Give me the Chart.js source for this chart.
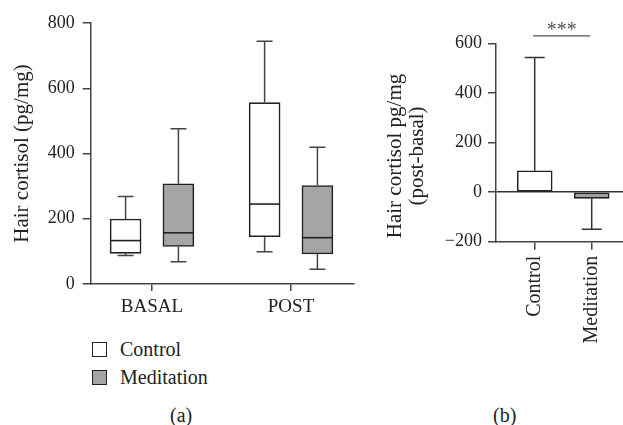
<!DOCTYPE html>
<html>
<head>
<meta charset="utf-8">
<script src="https://cdn.jsdelivr.net/npm/chart.js@4.4.1/dist/chart.umd.min.js"></script>
<style>
  body { margin: 0; background: #fff; width: 623px; height: 425px; position: relative; overflow: hidden;
         font-family: "Liberation Serif", serif; color: #222; }
  #boxChart { position: absolute; left: 0; top: 0; }
  #diffChart { position: absolute; left: 365px; top: 0; }
  .key { position: absolute; left: 92px; width: 13px; height: 13px; border: 1.3px solid #222; }
  .txt { position: absolute; font-size: 20px; line-height: 20px; white-space: nowrap; }
</style>
</head>
<body>
<canvas id="boxChart" width="370" height="330"></canvas>
<canvas id="diffChart" width="258" height="380"></canvas>

<div class="key" style="top:342px;background:#fff"></div>
<div class="txt" style="left:120px;top:339px">Control</div>
<div class="key" style="top:370px;background:#a6a4a7"></div>
<div class="txt" style="left:120px;top:367px">Meditation</div>
<div class="txt" style="left:170px;top:405px">(a)</div>
<div class="txt" style="left:493px;top:405px">(b)</div>

<script>
// (a) box plot, per group: [min, q1, median, q3, max]
const groups = ["BASAL", "POST"];
const controlStats = [[87, 94, 133, 199, 268], [99, 145, 245, 556, 744]];
const meditationStats = [[68, 115, 157, 307, 476], [45, 92, 142, 302, 419]];

// (b) post - basal difference, bar value and error bar end
const diffLabels = ["Control", "Meditation"];
const diffValues = [86, -25];
const diffErrorEnd = [543, -150];

Chart.defaults.font.family = "'Liberation Serif', serif";
Chart.defaults.color = "#222";

const axisColor = "#444";

// whiskers + median for the box chart
const whiskerPlugin = {
    id: "whiskers",
    afterDatasetsDraw(chart) {
        const ctx = chart.ctx;
        const y = chart.scales.y;
        ctx.save();
        chart.data.datasets.forEach((ds, di) => {
            chart.getDatasetMeta(di).data.forEach((bar, i) => {
                const s = ds.stats[i];
                const x = bar.x, half = bar.width / 2, cap = 8;
                ctx.strokeStyle = "#444";
                ctx.lineWidth = 1.5;
                ctx.beginPath();
                ctx.moveTo(x, y.getPixelForValue(s[3]));
                ctx.lineTo(x, y.getPixelForValue(s[4]));
                ctx.moveTo(x - cap, y.getPixelForValue(s[4]));
                ctx.lineTo(x + cap, y.getPixelForValue(s[4]));
                ctx.moveTo(x, y.getPixelForValue(s[1]));
                ctx.lineTo(x, y.getPixelForValue(s[0]));
                ctx.moveTo(x - cap, y.getPixelForValue(s[0]));
                ctx.lineTo(x + cap, y.getPixelForValue(s[0]));
                ctx.stroke();
                ctx.strokeStyle = "#222";
                ctx.lineWidth = 1.6;
                ctx.beginPath();
                ctx.moveTo(x - half, y.getPixelForValue(s[2]));
                ctx.lineTo(x + half, y.getPixelForValue(s[2]));
                ctx.stroke();
            });
        });
        ctx.restore();
    }
};

function boxData(stats, shift) {
    return stats.map((s, i) => ({ x: i + 1 + shift, y: [s[1], s[3]] }));
}

new Chart(document.getElementById("boxChart"), {
    type: "bar",
    data: {
        datasets: [
            { label: "Control", data: boxData(controlStats, -0.19), stats: controlStats,
              backgroundColor: "#fff", borderColor: "#222", borderWidth: 1.6, borderSkipped: false },
            { label: "Meditation", data: boxData(meditationStats, 0.19), stats: meditationStats,
              backgroundColor: "#a6a4a7", borderColor: "#222", borderWidth: 1.6, borderSkipped: false }
        ]
    },
    options: {
        responsive: false,
        animation: false,
        grouped: false,
        barThickness: 31,
        layout: { padding: { top: 23, right: 16, left: 0, bottom: 0 } },
        plugins: { legend: { display: false }, tooltip: { enabled: false } },
        scales: {
            x: {
                type: "linear", min: 0.559, max: 2.453, offset: false,
                afterBuildTicks: s => { s.ticks = [{ value: 1 }, { value: 2 }]; },
                afterFit: s => { s.height = 46; },
                ticks: { callback: (v, i) => groups[i], font: { size: 19 }, padding: 5 },
                grid: { offset: false, drawOnChartArea: false, tickLength: 7, tickColor: axisColor, lineWidth: 1.5 },
                border: { color: axisColor, width: 1.5 }
            },
            y: {
                min: 0, max: 800,
                afterFit: s => { s.width = 90.7; },
                ticks: { stepSize: 200, font: { size: 18 }, padding: 8 },
                grid: { drawOnChartArea: false, tickLength: 8, tickColor: axisColor, lineWidth: 1.5 },
                border: { color: axisColor, width: 1.5 },
                title: { display: true, text: "Hair cortisol (pg/mg)", font: { size: 21 }, padding: { top: 10, bottom: 0 } }
            }
        }
    },
    plugins: [whiskerPlugin]
});

// error bars, significance bracket and two-line axis title for (b)
const diffPlugin = {
    id: "diffExtras",
    afterDatasetsDraw(chart) {
        const ctx = chart.ctx;
        const x = chart.scales.x, y = chart.scales.y;
        ctx.save();
        ctx.strokeStyle = "#333";
        ctx.lineWidth = 1.5;
        chart.getDatasetMeta(0).data.forEach((bar, i) => {
            const px = bar.x, cap = 10;
            const y0 = y.getPixelForValue(diffValues[i]);
            const y1 = y.getPixelForValue(diffErrorEnd[i]);
            ctx.beginPath();
            ctx.moveTo(px, y0);
            ctx.lineTo(px, y1);
            ctx.moveTo(px - cap, y1);
            ctx.lineTo(px + cap, y1);
            ctx.stroke();
        });
        // significance bracket
        const sy = y.getPixelForValue(630);
        const x1 = x.getPixelForValue(1) - 1.5, x2 = x.getPixelForValue(2) - 1.5;
        ctx.strokeStyle = "#555";
        ctx.lineWidth = 1.2;
        ctx.beginPath();
        ctx.moveTo(x1, sy);
        ctx.lineTo(x2, sy);
        ctx.stroke();
        ctx.fillStyle = "#555";
        ctx.font = "20px 'Liberation Serif'";
        ctx.textAlign = "center";
        ctx.textBaseline = "middle";
        ctx.fillText("***", (x1 + x2) / 2, sy - 5);
        // axis title
        ctx.fillStyle = "#222";
        ctx.font = "21px 'Liberation Serif'";
        ctx.translate(0, 156);
        ctx.rotate(-Math.PI / 2);
        ctx.fillText("Hair cortisol pg/mg", 0, 30);
        ctx.fillText("(post-basal)", 0, 52);
        ctx.restore();
    }
};

new Chart(document.getElementById("diffChart"), {
    type: "bar",
    data: {
        datasets: [{
            data: diffValues.map((v, i) => ({ x: i + 1, y: v })),
            backgroundColor: ["#fff", "#a0a0a0"],
            borderColor: "#222", borderWidth: 1.6, borderSkipped: false
        }]
    },
    options: {
        responsive: false,
        animation: false,
        barThickness: 35,
        layout: { padding: { top: 43.3, right: 0, left: 0, bottom: 0 } },
        plugins: { legend: { display: false }, tooltip: { enabled: false } },
        scales: {
            x: {
                type: "linear", min: 0.321, max: 2.549, offset: false,
                afterBuildTicks: s => { s.ticks = [{ value: 1 }, { value: 2 }]; },
                afterFit: s => { s.height = 138.3; },
                ticks: { callback: (v, i) => diffLabels[i], font: { size: 20 }, padding: 6,
                         minRotation: 90, maxRotation: 90 },
                grid: { offset: false, drawOnChartArea: false, tickLength: 8, tickColor: axisColor, lineWidth: 1.5 },
                border: { color: axisColor, width: 1.5 }
            },
            y: {
                min: -200, max: 600,
                afterFit: s => { s.width = 131; },
                ticks: { stepSize: 200, font: { size: 18 }, padding: 6,
                         callback: v => String(v).replace("-", "\u2212") },
                grid: { color: c => c.tick && c.tick.value === 0 ? "#333" : "rgba(0,0,0,0)",
                        lineWidth: 1.5, tickLength: 8, tickColor: axisColor },
                border: { color: axisColor, width: 1.5 }
            }
        }
    },
    plugins: [diffPlugin]
});
</script>
</body>
</html>
